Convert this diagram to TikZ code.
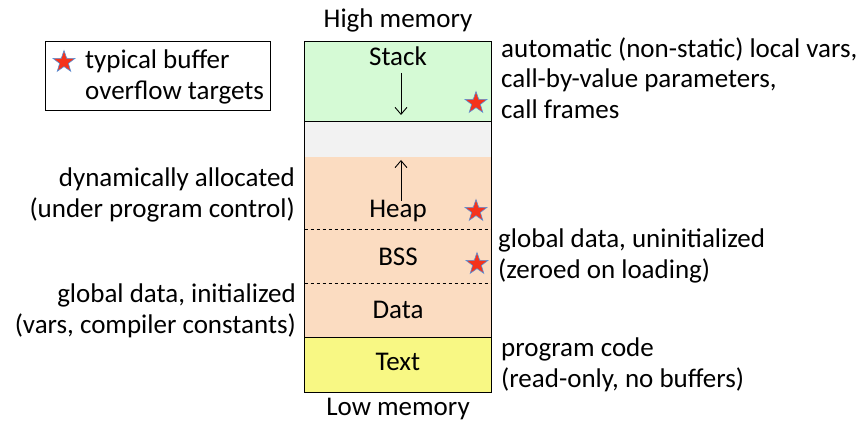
\documentclass[tikz,border=0pt]{standalone}
\usepackage{fontspec}
\setmainfont{Carlito}
\usetikzlibrary{shapes.geometric,arrows.meta}
\definecolor{stackgreen}{HTML}{D5FAD5}
\definecolor{gapgray}{HTML}{F2F2F2}
\definecolor{heappeach}{HTML}{FBDCC1}
\definecolor{textyellow}{HTML}{F8F884}
\definecolor{starred}{HTML}{F5331C}
\definecolor{starblue}{HTML}{5B8FD5}
\begin{document}
\begin{tikzpicture}[x=1pt,y=-1pt,
  every node/.style={font=\fontsize{27}{30.5}\selectfont, inner sep=0pt},
  seg/.style={draw=black, line width=0.8pt},
  lbl/.style={anchor=center},
  rtext/.style={anchor=west, align=left},
  ltext/.style={anchor=east, align=right},
  bstar/.style={star, star points=5, star point ratio=2.5, minimum size=23pt, fill=starred, draw=starblue, line width=0.6pt},
  growarrow/.style={line width=0.9pt, -{Straight Barb[length=7pt,width=12pt,line width=0.9pt]}}
]
\useasboundingbox (0,0) rectangle (859,422);
% segments
\path[seg, fill=stackgreen] (304.5,41) rectangle (491.5,121.5);
\path[seg, fill=gapgray] (304.5,121.5) rectangle (491.5,157.5);
\path[fill=heappeach] (304.5,157.5) rectangle (491.5,337.5);
\draw[line width=0.8pt] (304.5,157.5) -- (304.5,337.5) (491.5,157.5) -- (491.5,337.5);
\draw[dashed, line width=0.7pt] (304.5,229.5) -- (491.5,229.5);
\draw[dashed, line width=0.7pt] (304.5,283.5) -- (491.5,283.5);
\path[seg, fill=textyellow] (304.5,337.5) rectangle (491.5,392.5);
% labels
\node[lbl] (high) at (398,20) {High memory};
\node[lbl] (low) at (398,409) {Low memory};
\node[lbl] (stack) at (398,56) {Stack};
\node[lbl] (heap) at (398,211) {Heap};
\node[lbl] (bss) at (398,257) {BSS};
\node[lbl] (data) at (398,310) {Data};
\node[lbl] (text) at (398,362) {Text};
% arrows
\coordinate (stackstart) at (401,73);
\coordinate (stackend) at (401,115);
\coordinate (heapstart) at (401,201);
\coordinate (heapend) at (401,160);
\draw[growarrow] (stackstart) -- (stackend);
\draw[growarrow] (heapstart) -- (heapend);
% stars
\node[bstar] (s1) at (476,103) {};
\node[bstar] (s2) at (476,211) {};
\node[bstar] (s3) at (477,264) {};
% side texts
\node[rtext] (t1) at (501,78) {automatic (non-static) local vars,\\call-by-value parameters,\\call frames};
\node[ltext] (t2) at (295,195) {dynamically allocated\\(under program control)};
\node[rtext] (t3) at (498,256) {global data, uninitialized\\(zeroed on loading)};
\node[ltext] (t4) at (296,311) {global data, initialized\\(vars, compiler constants)};
\node[rtext] (t5) at (501,365) {program code\\(read-only, no buffers)};
% legend
\draw[line width=0.8pt] (45.5,41.5) rectangle (270.5,110);
\node[bstar] (ls) at (64,62) {};
\node[rtext] (lt) at (85,77) {typical buffer\\overflow targets};
\end{tikzpicture}
\end{document}
